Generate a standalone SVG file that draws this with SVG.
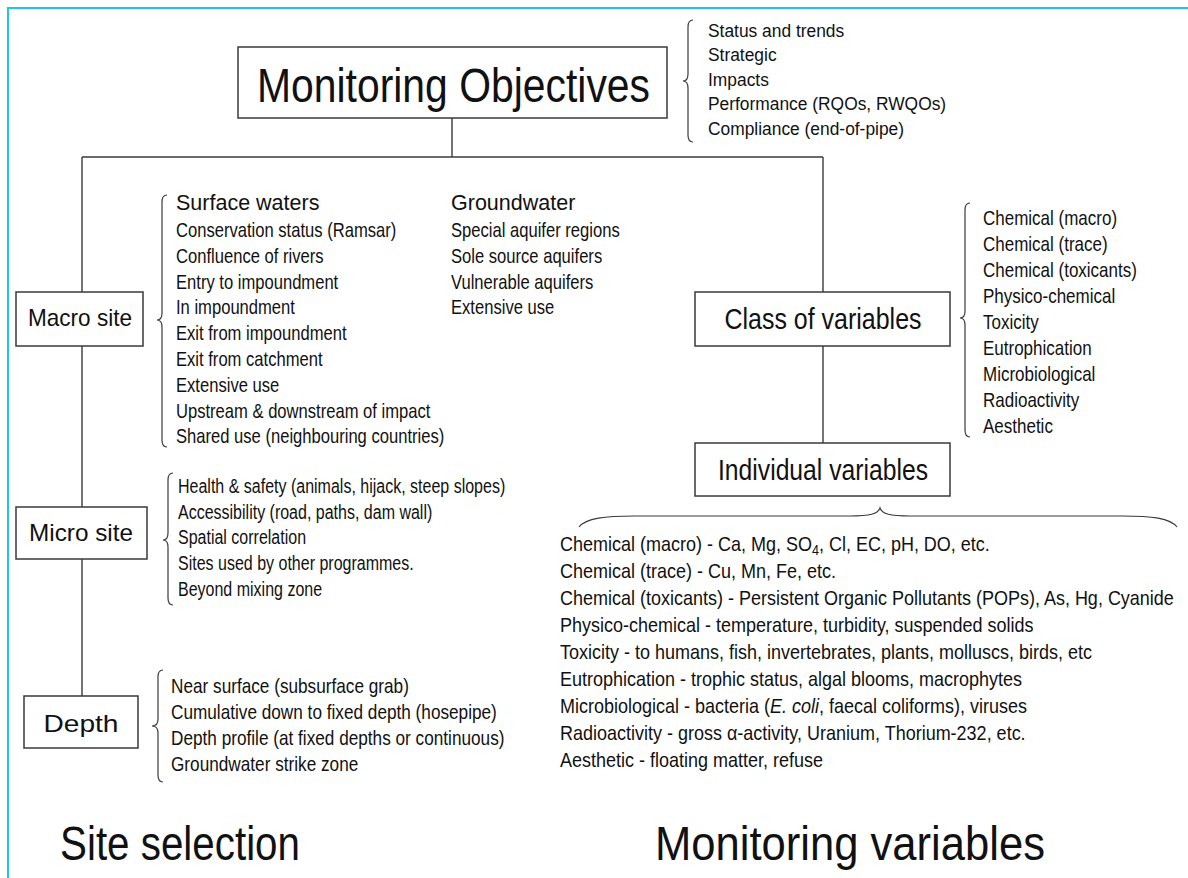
<svg xmlns="http://www.w3.org/2000/svg" width="1188" height="878" viewBox="0 0 1188 878">
<style>
  text { font-family: "Liberation Sans", Arial, sans-serif; fill: #111; }
  .box { fill: #fff; stroke: #3a3a3a; stroke-width: 1.5; }
  .ln { stroke: #3a3a3a; stroke-width: 1.4; fill: none; }
  .br { stroke: #3a3a3a; stroke-width: 1.2; fill: none; }
  .big { font-size: 49px; }
  .lbl { font-size: 29px; text-anchor: middle; }
  .lbs { font-size: 24px; text-anchor: middle; }
  .li { font-size: 20px; }
  .ls { font-size: 18.5px; }
  .hd { font-size: 21.5px; }
  .frame { stroke: #22c4ee; stroke-width: 2; fill: none; }
</style>
<rect width="1188" height="878" fill="#fff"/>
<path class="frame" d="M8,878 L8,8 L1188,8"/>

<g id="connectors">
  <path class="ln" d="M452,118 L452,157"/>
  <path class="ln" d="M82,157 L823,157"/>
  <path class="ln" d="M82,157 L82,696"/>
  <path class="ln" d="M823,157 L823,443"/>
</g>

<g id="braces">
  <path class="br" d="M693,20 Q688,20 688,27 L688,74 Q688,81 683,81 Q688,81 688,88 L688,135 Q688,142 693,142"/>
  <path class="br" d="M167,195 Q162,195 162,202 L162,313 Q162,320 157,320 Q162,320 162,327 L162,440 Q162,447 167,447"/>
  <path class="br" d="M173,473 Q168,473 168,480 L168,533 Q168,540 163,540 Q168,540 168,547 L168,598 Q168,605 173,605"/>
  <path class="br" d="M163,670 Q158,670 158,677 L158,719 Q158,726 152,726 Q158,726 158,733 L158,775 Q158,782 163,782"/>
  <path class="br" d="M970,203 Q965,203 965,210 L965,311 Q965,318 960,318 Q965,318 965,325 L965,430 Q965,437 970,437"/>
  <path class="br" d="M579,527 C586,518 605,516 635,516 L850,516 C870,516 878,514 880,508 C882,514 890,516 910,516 L1122,516 C1152,516 1170,518 1177,527"/>
</g>

<g id="monitoring-objectives">
  <rect class="box" x="238" y="47" width="429" height="71"/>
  <text class="big" x="257" y="102" textLength="393" lengthAdjust="spacingAndGlyphs">Monitoring Objectives</text>
</g>
<g id="objectives-list" transform="translate(708,0) scale(0.94,1)">
  <text class="ls" x="0" y="37">Status and trends</text>
  <text class="ls" x="0" y="61.5">Strategic</text>
  <text class="ls" x="0" y="86">Impacts</text>
  <text class="ls" x="0" y="110.5">Performance (RQOs, RWQOs)</text>
  <text class="ls" x="0" y="135">Compliance (end-of-pipe)</text>
</g>

<g id="macro-site">
  <rect class="box" x="16" y="292" width="127" height="54"/>
  <text class="lbs" x="80" y="326" textLength="104" lengthAdjust="spacingAndGlyphs">Macro site</text>
</g>
<g id="macro-surface">
  <text class="hd" x="176" y="210">Surface waters</text>
  <g transform="translate(176,0) scale(0.83,1)">
    <text class="li" x="0" y="237">Conservation status (Ramsar)</text>
    <text class="li" x="0" y="262.8">Confluence of rivers</text>
    <text class="li" x="0" y="288.6">Entry to impoundment</text>
    <text class="li" x="0" y="314.4">In impoundment</text>
    <text class="li" x="0" y="340.2">Exit from impoundment</text>
    <text class="li" x="0" y="366">Exit from catchment</text>
    <text class="li" x="0" y="391.8">Extensive use</text>
    <text class="li" x="0" y="417.6">Upstream &amp; downstream of impact</text>
    <text class="li" x="0" y="443.4">Shared use (neighbouring countries)</text>
  </g>
</g>
<g id="macro-groundwater">
  <text class="hd" x="451" y="210">Groundwater</text>
  <g transform="translate(451,0) scale(0.83,1)">
    <text class="li" x="0" y="237">Special aquifer regions</text>
    <text class="li" x="0" y="262.8">Sole source aquifers</text>
    <text class="li" x="0" y="288.6">Vulnerable aquifers</text>
    <text class="li" x="0" y="314.4">Extensive use</text>
  </g>
</g>

<g id="micro-site">
  <rect class="box" x="16" y="507" width="131" height="52"/>
  <text class="lbs" x="81" y="541" textLength="104" lengthAdjust="spacingAndGlyphs">Micro site</text>
</g>
<g id="micro-list" transform="translate(178,0) scale(0.8,1)">
  <text class="li" x="0" y="493">Health &amp; safety (animals, hijack, steep slopes)</text>
  <text class="li" x="0" y="518.8">Accessibility (road, paths, dam wall)</text>
  <text class="li" x="0" y="544.5">Spatial correlation</text>
  <text class="li" x="0" y="570.3">Sites used by other programmes.</text>
  <text class="li" x="0" y="596">Beyond mixing zone</text>
</g>

<g id="depth">
  <rect class="box" x="24" y="696" width="114" height="52"/>
  <text class="lbs" x="81" y="732" font-size="27" textLength="75" lengthAdjust="spacingAndGlyphs">Depth</text>
</g>
<g id="depth-list" transform="translate(171,0) scale(0.86,1)">
  <text class="li" x="0" y="693">Near surface (subsurface grab)</text>
  <text class="li" x="0" y="719">Cumulative down to fixed depth (hosepipe)</text>
  <text class="li" x="0" y="745">Depth profile (at fixed depths or continuous)</text>
  <text class="li" x="0" y="771">Groundwater strike zone</text>
</g>

<g id="class-of-variables">
  <rect class="box" x="695" y="292" width="255" height="54"/>
  <text class="lbl" x="823" y="329" textLength="197" lengthAdjust="spacingAndGlyphs">Class of variables</text>
</g>
<g id="class-list" transform="translate(983,0) scale(0.85,1)">
  <text class="li" x="0" y="225">Chemical (macro)</text>
  <text class="li" x="0" y="251">Chemical (trace)</text>
  <text class="li" x="0" y="277">Chemical (toxicants)</text>
  <text class="li" x="0" y="303">Physico-chemical</text>
  <text class="li" x="0" y="329">Toxicity</text>
  <text class="li" x="0" y="355">Eutrophication</text>
  <text class="li" x="0" y="381">Microbiological</text>
  <text class="li" x="0" y="407">Radioactivity</text>
  <text class="li" x="0" y="433">Aesthetic</text>
</g>

<g id="individual-variables">
  <rect class="box" x="695" y="443" width="255" height="53"/>
  <text class="lbl" x="823" y="480" textLength="210" lengthAdjust="spacingAndGlyphs">Individual variables</text>
</g>
<g id="individual-list" transform="translate(560,0) scale(0.9,1)">
  <text class="li" font-size="21" x="0" y="551">Chemical (macro) - Ca, Mg, SO<tspan font-size="14" dy="4">4</tspan><tspan dy="-4">, Cl, EC, pH, DO, etc.</tspan></text>
  <text class="li" font-size="21" x="0" y="578">Chemical (trace) - Cu, Mn, Fe, etc.</text>
  <text class="li" font-size="21" x="0" y="605">Chemical (toxicants) - Persistent Organic Pollutants (POPs), As, Hg, Cyanide</text>
  <text class="li" font-size="21" x="0" y="632">Physico-chemical - temperature, turbidity, suspended solids</text>
  <text class="li" font-size="21" x="0" y="659">Toxicity - to humans, fish, invertebrates, plants, molluscs, birds, etc</text>
  <text class="li" font-size="21" x="0" y="686">Eutrophication - trophic status, algal blooms, macrophytes</text>
  <text class="li" font-size="21" x="0" y="713">Microbiological - bacteria (<tspan font-style="italic">E. coli</tspan>, faecal coliforms), viruses</text>
  <text class="li" font-size="21" x="0" y="740">Radioactivity - gross α-activity, Uranium, Thorium-232, etc.</text>
  <text class="li" font-size="21" x="0" y="767">Aesthetic - floating matter, refuse</text>
</g>

<g id="titles">
  <text class="big" x="60" y="860" font-size="50" textLength="240" lengthAdjust="spacingAndGlyphs">Site selection</text>
  <text class="big" x="655" y="860" font-size="50" textLength="390" lengthAdjust="spacingAndGlyphs">Monitoring variables</text>
</g>
</svg>
